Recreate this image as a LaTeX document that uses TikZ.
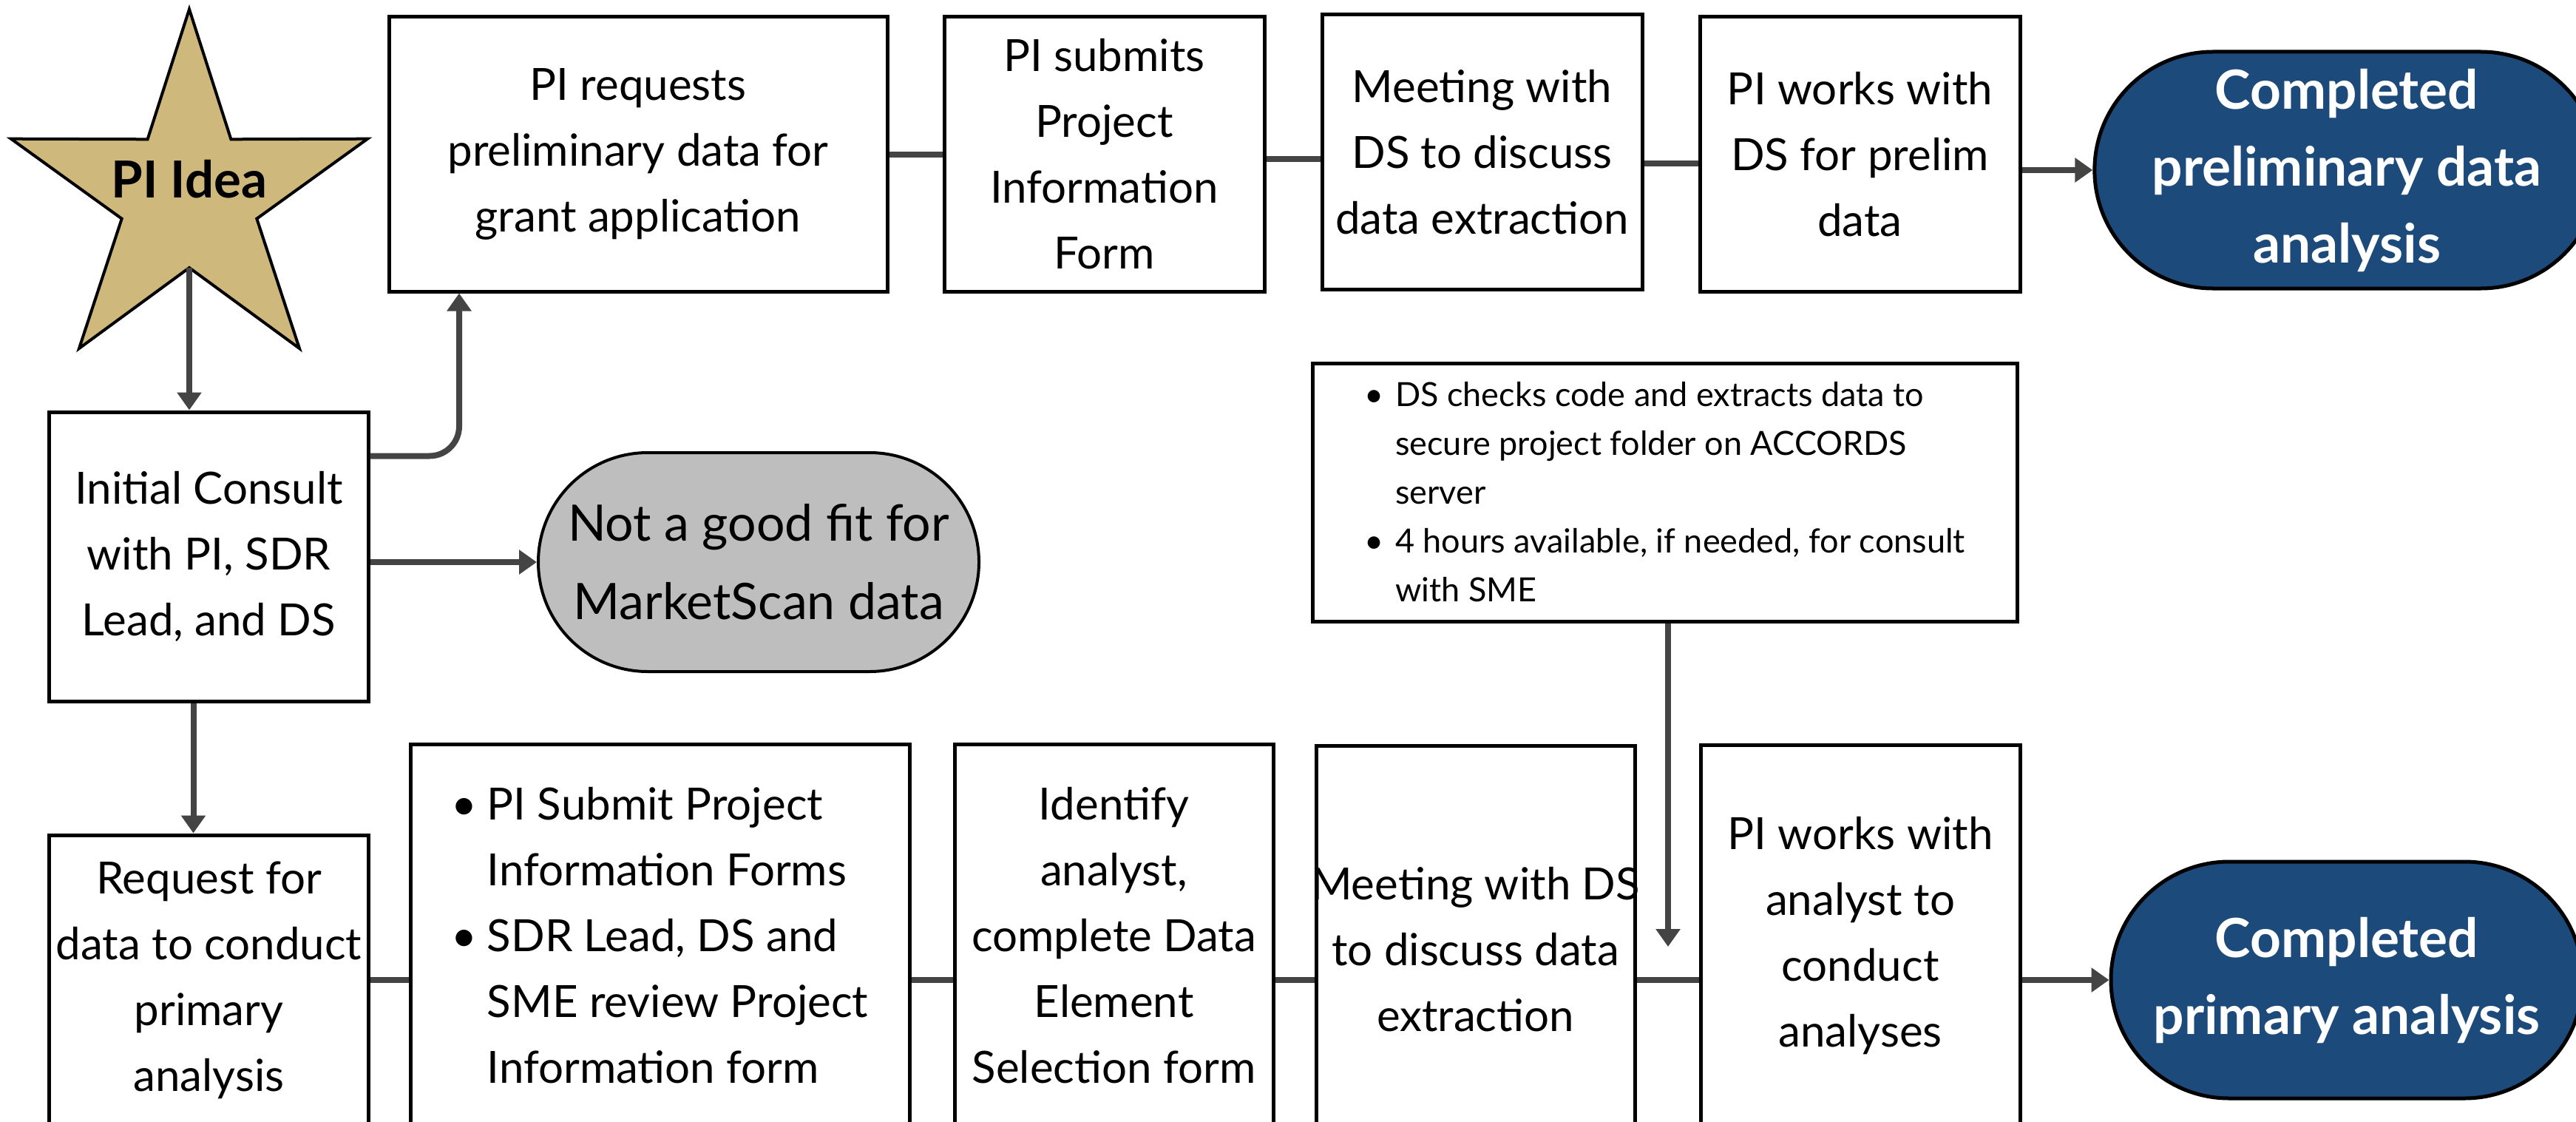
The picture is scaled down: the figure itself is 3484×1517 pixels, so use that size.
\documentclass[tikz,border=0pt]{standalone}
\usepackage{fontspec}
\setmainfont{Lato}
\usetikzlibrary{arrows.meta,shapes.misc,calc}
\definecolor{cgray}{HTML}{444444}
\definecolor{gold}{HTML}{CFB87C}
\definecolor{navy}{HTML}{1C4A7B}
\definecolor{pillgray}{HTML}{BEBEBE}
\tikzset{
  box/.style={draw=black, line width=5bp, fill=white, inner sep=0pt, align=center,
    font=\fontsize{60bp}{89bp}\selectfont},
  conn/.style={draw=cgray, line width=8bp},
  arr/.style={conn, -{Triangle[length=24bp,width=32bp]}},
  pill/.style={rounded rectangle, draw=black, line width=5bp, inner sep=0pt, align=center},
  donepill/.style={pill, fill=navy, text=white, minimum width=638bp, minimum height=320bp,
    font=\fontsize{73bp}{104bp}\selectfont\bfseries},
}
\newcommand{\bul}[1]{\makebox[#1][l]{\textbullet}}
\begin{document}
\begin{tikzpicture}[x=1bp,y=-1bp]
\useasboundingbox (0,0) rectangle (3484,1517);
\clip (0,0) rectangle (3484,1517);
% star
\filldraw[fill=gold, draw=black, line width=4bp, line join=miter]
  (256,12.5) -- (199.6,188.3) -- (14.9,187.7) -- (164.7,295.7) -- (107,471.1)
  -- (256,362) -- (405,471.1) -- (347.3,295.7) -- (497.1,187.7) -- (312.4,188.3) -- cycle;
\node[font=\fontsize{69bp}{80bp}\selectfont\bfseries, inner sep=0pt] (idea) at (256,242) {PI Idea};
\coordinate (starbot) at (256,362);
% top row
\node[box, minimum width=674bp, minimum height=371bp] (req) at (863,208.5)
  {PI requests\\preliminary data for\\grant application};
\node[box, minimum width=433bp, minimum height=371bp] (submits) at (1493.5,208.5)
  {PI submits\\Project\\Information\\Form};
\node[box, minimum width=433bp, minimum height=371bp] (meet1) at (2004.5,205.5)
  {Meeting with\\DS to discuss\\data extraction};
\node[box, minimum width=433bp, minimum height=371bp] (works1) at (2515.5,208.5)
  {PI works with\\DS for prelim\\data};
\node[donepill] (done1) at (3174,230) {Completed\\preliminary data\\analysis};
% middle
\node[box, minimum width=431bp, minimum height=391bp] (consult) at (282.5,752.5)
  {Initial Consult\\with PI, SDR\\Lead, and DS};
\node[pill, fill=pillgray, line width=4bp, minimum width=596bp, minimum height=296bp,
  font=\fontsize{68bp}{106bp}\selectfont] (notfit) at (1026,760)
  {Not a good fit for\\MarketScan data};
\node[box, align=left, minimum width=953bp, minimum height=349bp,
  font=\fontsize{45bp}{66bp}\selectfont] (ds) at (2251.5,665.5)
  {\bul{42bp}DS checks code and extracts data to\\
   \hspace*{42bp}secure project folder on ACCORDS\\
   \hspace*{42bp}server\\
   \bul{42bp}4 hours available, if needed, for consult\\
   \hspace*{42bp}with SME};
% bottom row
\node[box, minimum width=431bp, minimum height=392bp] (request) at (282.5,1325)
  {Request for\\data to conduct\\primary\\analysis};
\node[box, align=left, minimum width=675bp, minimum height=518bp] (bullets) at (892.5,1265)
  {\bul{48bp}PI Submit Project\\
   \hspace*{48bp}Information Forms\\
   \bul{48bp}SDR Lead, DS and\\
   \hspace*{48bp}SME review Project\\
   \hspace*{48bp}Information form};
\node[box, minimum width=431bp, minimum height=518bp] (identify) at (1506.5,1265)
  {Identify\\analyst,\\complete Data\\Element\\Selection form};
\node[box, minimum width=431bp, minimum height=552bp] (meet2) at (1995.5,1284)
  {\makebox[421bp][c]{Meeting with DS}\\to discuss data\\extraction};
\node[box, minimum width=432bp, minimum height=516bp] (works2) at (2516,1265)
  {PI works with\\analyst to\\conduct\\analyses};
\node[donepill] (done2) at (3174,1325) {Completed\\primary analysis};
\coordinate (dsend) at (2256,1280);
% connectors
\draw[arr] (starbot) -- (starbot |- consult.north);
\draw[arr, rounded corners=40bp] ([yshift=136bp]consult.east) -| ([xshift=-242bp]req.south);
\draw[arr] (consult.east |- notfit.west) -- (notfit.west);
\draw[arr] ([xshift=-21bp]consult.south) -- ([xshift=-21bp]consult.south |- request.north);
\draw[conn] (req.east) -- (submits.west);
\draw[conn] ([yshift=-6bp]submits.east) -- ([yshift=-6bp]submits.east -| meet1.west);
\draw[conn] ([yshift=-12bp]works1.west -| meet1.east) -- ([yshift=-12bp]works1.west);
\draw[arr] (works1.east |- done1.west) -- (done1.west);
\draw[conn] (request.east) -- (request.east -| bullets.west);
\draw[conn] (request.east -| bullets.east) -- (request.east -| identify.west);
\draw[conn] (request.east -| identify.east) -- (request.east -| meet2.west);
\draw[conn] (request.east -| meet2.east) -- (request.east -| works2.west);
\draw[arr] (works2.east |- done2.west) -- (done2.west);
\draw[arr] (ds.south -| dsend) -- (dsend);
\end{tikzpicture}
\end{document}
